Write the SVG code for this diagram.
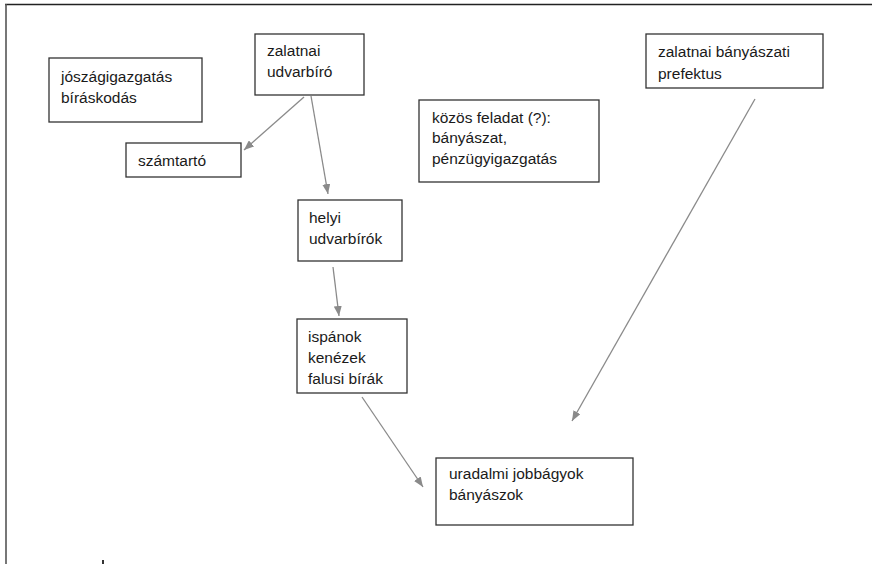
<svg xmlns="http://www.w3.org/2000/svg" width="872" height="564" viewBox="0 0 872 564">
<style>
.box{fill:#fff;stroke:#333;stroke-width:1.3}
.t{font-family:"Liberation Sans",Arial,sans-serif;font-size:15.5px;fill:#1a1a1a}
.c{stroke:#8a8a8a;stroke-width:1.3;fill:none}
</style>
<defs>
<marker id="ah" viewBox="0 0 10 8" refX="10" refY="4" markerWidth="10" markerHeight="8" markerUnits="userSpaceOnUse" orient="auto">
<path d="M0,0 L10,4 L0,8 Z" fill="#8a8a8a"/>
</marker>
</defs>
<rect width="872" height="564" fill="#fff"/>
<g id="frame">
<line x1="5" y1="4.5" x2="872" y2="4.5" stroke="#222" stroke-width="1.5"/>
<line x1="6" y1="4" x2="6" y2="564" stroke="#555" stroke-width="1.6"/>
<rect x="102" y="560" width="2" height="4" fill="#333"/>
</g>
<g id="connectors">
<line class="c" x1="304" y1="97" x2="244" y2="150" marker-end="url(#ah)"/>
<line class="c" x1="311" y1="96" x2="328" y2="194" marker-end="url(#ah)"/>
<line class="c" x1="333" y1="267" x2="339" y2="316" marker-end="url(#ah)"/>
<line class="c" x1="362" y1="397" x2="423" y2="487" marker-end="url(#ah)"/>
<line class="c" x1="755" y1="99" x2="572" y2="421" marker-end="url(#ah)"/>
</g>
<g id="joszag">
<rect class="box" x="49" y="58" width="153" height="64"/>
<text class="t" x="61" y="82">jószágigazgatás</text>
<text class="t" x="61" y="103">bíráskodás</text>
</g>
<g id="szamtarto">
<rect class="box" x="126" y="143" width="115" height="34"/>
<text class="t" x="138" y="166">számtartó</text>
</g>
<g id="zalatnai-udvarbiro">
<rect class="box" x="255" y="34" width="109" height="61"/>
<text class="t" x="267" y="56">zalatnai</text>
<text class="t" x="267" y="77">udvarbíró</text>
</g>
<g id="kozos">
<rect class="box" x="419" y="100" width="180" height="82"/>
<text class="t" x="432" y="123">közös feladat (?):</text>
<text class="t" x="432" y="143">bányászat,</text>
<text class="t" x="432" y="164">pénzügyigazgatás</text>
</g>
<g id="prefektus">
<rect class="box" x="646" y="34" width="177" height="54"/>
<text class="t" x="658" y="57">zalatnai bányászati</text>
<text class="t" x="658" y="79">prefektus</text>
</g>
<g id="helyi">
<rect class="box" x="298" y="200" width="104" height="61"/>
<text class="t" x="309" y="223">helyi</text>
<text class="t" x="309" y="244">udvarbírók</text>
</g>
<g id="ispanok">
<rect class="box" x="297" y="319" width="110" height="74"/>
<text class="t" x="308" y="342">ispánok</text>
<text class="t" x="308" y="363">kenézek</text>
<text class="t" x="308" y="384">falusi bírák</text>
</g>
<g id="uradalmi">
<rect class="box" x="436" y="458" width="197" height="67"/>
<text class="t" x="449" y="479">uradalmi jobbágyok</text>
<text class="t" x="449" y="500">bányászok</text>
</g>
</svg>
